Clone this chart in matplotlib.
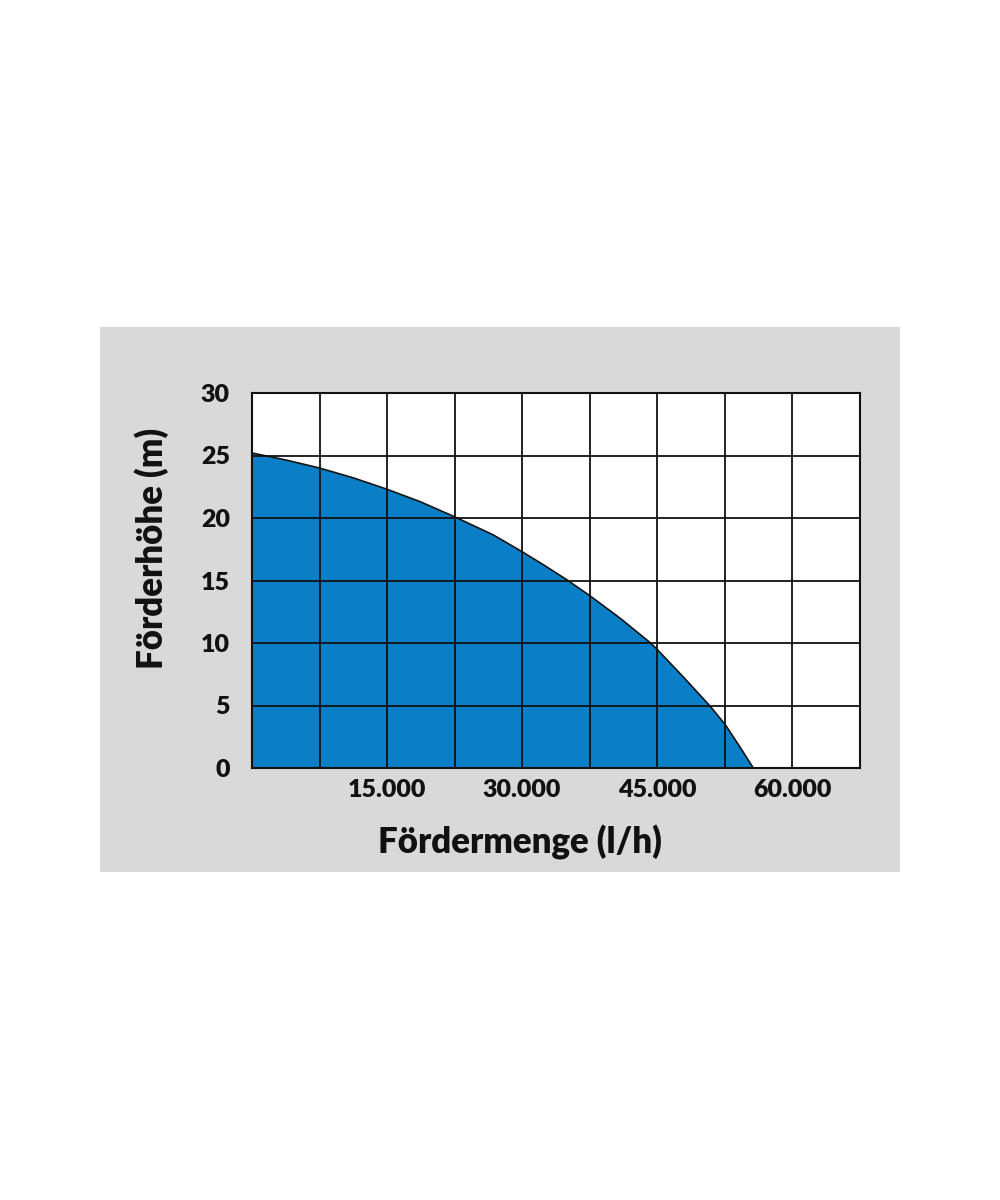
import matplotlib
matplotlib.use("Agg")
import matplotlib.pyplot as plt
from matplotlib.patches import Rectangle

# Data (flow in l/h, head in m)
flow = [0, 3700, 7500, 11300, 15000, 18700, 22500, 26800, 29900, 32400, 35000,
        37600, 40500, 41300, 44200, 45000, 47900, 50900, 52600, 54200, 55700]
head = [25.2, 24.65, 24.0, 23.2, 22.3, 21.3, 20.1, 18.65, 17.35, 16.25, 15.05,
        13.75, 12.2, 11.75, 10.05, 9.5, 7.3, 4.95, 3.45, 1.7, 0.0]

x_ticks = [15000, 30000, 45000, 60000]
x_tick_labels = ["15.000", "30.000", "45.000", "60.000"]
y_ticks = [0, 5, 10, 15, 20, 25, 30]
y_tick_labels = ["0", "5", "10", "15", "20", "25", "30"]
x_grid = [0, 7500, 15000, 22500, 30000, 37500, 45000, 52500, 60000, 67500]
x_label = "Fördermenge (l/h)"
y_label = "Förderhöhe (m)"

plt.rcParams['font.family'] = ['Lato', 'DejaVu Sans']

fig = plt.figure(figsize=(10, 12), dpi=100)
fig.patch.set_facecolor("white")
fig.patches.append(Rectangle((0.1, 0.2733), 0.8, 0.4542, transform=fig.transFigure,
                             facecolor="#d9d9d9", edgecolor="none", zorder=-10))

ax = fig.add_axes([0.252, 0.36, 0.6075, 0.3125])
ax.set_zorder(1)
ax.set_facecolor("white")
ax.set_xlim(0, 67500)
ax.set_ylim(0, 30)

ax.fill_between(flow, head, 0, color="#0a7fc7", zorder=1, linewidth=0)
ax.plot(flow, head, color="#111111", linewidth=1.2, zorder=2,
        solid_joinstyle="round")

for gx in x_grid:
    ax.axvline(gx, color="#111111", linewidth=1.3, zorder=3)
for gy in y_ticks:
    ax.axhline(gy, color="#111111", linewidth=1.3, zorder=3)

for s in ax.spines.values():
    s.set_color("#111111")
    s.set_linewidth(1.5)
    s.set_zorder(4)

ax.set_xticks(x_ticks)
ax.set_xticklabels(x_tick_labels)
ax.set_yticks(y_ticks)
ax.set_yticklabels(y_tick_labels)
ax.tick_params(axis="both", length=0, labelsize=18, colors="#111111")
ax.tick_params(axis="x", pad=8)
ax.tick_params(axis="y", pad=16)
for lab in ax.get_xticklabels() + ax.get_yticklabels():
    lab.set_fontweight("heavy")

fig.text(0.520, 0.2983, x_label, ha="center", va="center", fontsize=25,
         fontweight="heavy", color="#111111", zorder=5)
fig.text(0.152, 0.5433, y_label, ha="center", va="center", fontsize=25,
         fontweight="heavy", color="#111111", rotation=90, zorder=5)

fig.savefig("out.png", dpi=100, facecolor="white")
